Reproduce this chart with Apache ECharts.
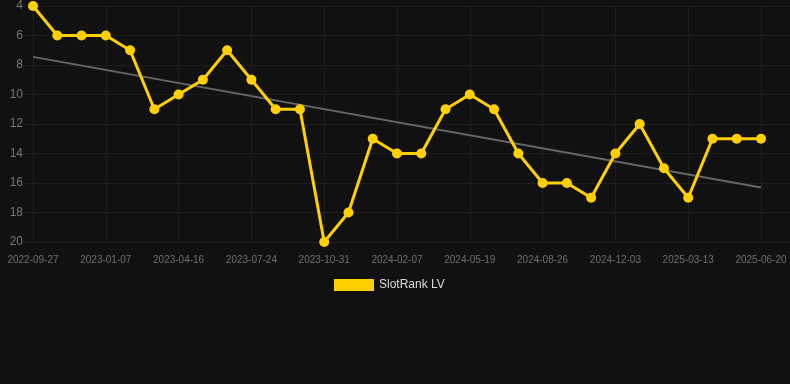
<!DOCTYPE html>
<html>
<head>
<meta charset="utf-8">
<script src="https://cdn.jsdelivr.net/npm/echarts@6/dist/echarts.min.js"></script>
<style>
html,body{margin:0;padding:0;background:#111111;}
#chart{width:790px;height:384px;}
</style>
</head>
<body>
<div id="chart"></div>
<script>
const dates = [
  '2022-09-27','2022-10-31','2022-12-04','2023-01-07','2023-02-09','2023-03-14',
  '2023-04-16','2023-05-19','2023-06-21','2023-07-24','2023-08-26','2023-09-28',
  '2023-10-31','2023-12-03','2024-01-05','2024-02-07','2024-03-11','2024-04-15',
  '2024-05-19','2024-06-21','2024-07-24','2024-08-26','2024-09-28','2024-10-31',
  '2024-12-03','2025-01-05','2025-02-08','2025-03-13','2025-04-15','2025-05-18',
  '2025-06-20'
];
const rankValues = [4,6,6,6,7,11,10,9,7,9,11,11,20,18,13,14,14,11,10,11,14,16,16,17,14,12,15,17,13,13,13];
const trendStart = 7.45;
const trendEnd = 16.3;
const yTicks = [4,6,8,10,12,14,16,18,20];
const seriesName = 'SlotRank LV';

const trendData = dates.map((d, i) => i === 0 ? trendStart : (i === dates.length - 1 ? trendEnd : null));
const gridColor = '#1d1d1d';
const font = 'Arial, "Liberation Sans", sans-serif';

const chart = echarts.init(document.getElementById('chart'), null, {renderer: 'canvas'});
chart.setOption({
  backgroundColor: '#111111',
  animation: false,
  grid: [
    {left: 33, right: 29, top: 6, bottom: 142, containLabel: false},
    {left: 24, right: 0, top: 6, bottom: 142, containLabel: false}
  ],
  legend: {
    data: [seriesName],
    top: 274,
    left: 329,
    icon: 'rect',
    itemWidth: 40,
    itemHeight: 12,
    itemGap: 10,
    textStyle: {color: '#dddddd', fontSize: 12, fontFamily: font}
  },
  xAxis: [
    {
      type: 'category',
      gridIndex: 0,
      data: dates,
      boundaryGap: false,
      axisLine: {show: false},
      axisTick: {show: false},
      axisLabel: {interval: 2, color: '#6f6f6f', fontSize: 10, margin: 13, fontFamily: font},
      splitLine: {show: true, interval: 2, lineStyle: {color: gridColor}}
    },
    {
      type: 'value',
      gridIndex: 1,
      min: 0,
      max: 1,
      show: false
    }
  ],
  yAxis: [
    {
      type: 'value',
      gridIndex: 0,
      inverse: true,
      min: yTicks[0],
      max: yTicks[yTicks.length - 1],
      interval: 2,
      axisLine: {show: false},
      axisTick: {show: false},
      axisLabel: {color: '#777777', fontSize: 12, margin: 10, fontFamily: font},
      splitLine: {show: false}
    },
    {
      type: 'value',
      gridIndex: 1,
      inverse: true,
      min: yTicks[0],
      max: yTicks[yTicks.length - 1],
      interval: 2,
      axisLine: {show: false},
      axisTick: {show: false},
      axisLabel: {show: false},
      splitLine: {show: true, lineStyle: {color: gridColor}}
    }
  ],
  series: [
    {
      name: seriesName,
      type: 'line',
      xAxisIndex: 0,
      yAxisIndex: 0,
      data: rankValues,
      color: '#FFD000',
      lineStyle: {width: 3, color: '#FFD000'},
      itemStyle: {color: '#FFD000'},
      symbol: 'circle',
      symbolSize: 10,
      z: 3
    },
    {
      name: 'trend',
      type: 'line',
      xAxisIndex: 0,
      yAxisIndex: 0,
      data: trendData,
      connectNulls: true,
      symbol: 'none',
      lineStyle: {width: 2, color: '#666666'},
      itemStyle: {color: '#666666'},
      z: 2,
      silent: true
    }
  ]
});
</script>
</body>
</html>
